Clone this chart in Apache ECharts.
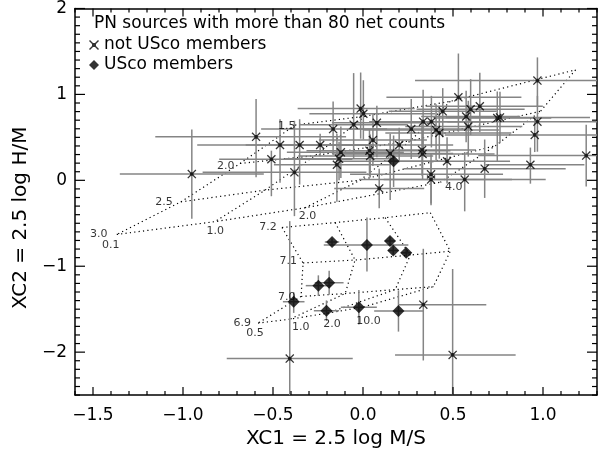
<!DOCTYPE html>
<html><head><meta charset="utf-8">
<script src="https://cdn.jsdelivr.net/npm/echarts@6/dist/echarts.min.js"></script>
<style>html,body{margin:0;padding:0;background:#fff}#c{width:600px;height:454px}</style>
</head><body><div id="c"></div>
<script>
// ---- data: not USco members (x marks) ----
const otherX = [-0.951,-0.594,-0.509,-0.461,-0.381,-0.352,-0.238,-0.166,-0.123,-0.133,-0.145,-0.052,-0.013,0.002,0.077,0.055,0.036,0.04,0.09,0.151,0.201,0.268,0.334,0.38,0.406,0.424,0.443,0.53,0.573,0.585,0.598,0.649,0.746,0.761,0.969,0.969,0.954,0.328,0.331,0.467,0.676,0.93,1.24,0.378,0.378,0.565,0.335,-0.407,0.498];
const otherY = [0.073,0.506,0.245,0.411,0.093,0.411,0.411,0.597,0.326,0.25,0.181,0.648,0.835,0.775,0.669,0.468,0.345,0.284,-0.094,0.311,0.411,0.597,0.683,0.683,0.586,0.552,0.803,0.966,0.743,0.626,0.827,0.862,0.724,0.732,1.161,0.683,0.529,0.353,0.307,0.222,0.135,0.181,0.288,0.07,0.009,0.009,-1.447,-2.075,-2.032];
const otherXErrLo = [0.40,0.56,0.29,0.46,0.51,0.30,0.20,0.40,0.30,0.30,0.35,0.30,0.35,0.30,0.25,0.30,0.35,0.40,0.25,0.30,0.30,0.35,0.30,0.30,0.40,0.30,0.30,0.40,0.25,0.35,0.30,0.30,0.35,0.30,0.68,0.50,0.50,0.30,0.50,0.35,0.45,0.25,0.60,0.45,0.40,0.45,0.14,0.35,0.32];
const otherXErrHi = [0.40,0.50,0.45,0.50,0.40,0.40,0.30,0.30,0.35,0.30,0.30,0.30,0.30,0.40,0.30,0.30,0.45,0.35,0.25,0.35,0.30,0.30,0.35,0.30,0.35,0.40,0.30,0.35,0.30,0.30,0.30,0.35,0.30,0.50,0.45,0.40,0.50,0.30,0.40,0.35,0.45,0.30,0.10,0.40,0.45,0.45,0.35,0.35,0.35];
const otherYErrLo = [0.52,0.47,0.43,0.44,0.51,0.46,0.13,0.30,0.30,0.25,0.43,0.40,0.35,0.30,0.40,0.30,0.30,0.25,0.23,0.54,0.20,0.35,0.35,0.30,0.35,0.30,0.30,0.40,0.30,0.35,0.30,0.30,0.50,0.30,0.30,0.35,0.20,0.30,0.30,0.26,0.34,0.22,0.36,0.34,0.30,0.37,0.65,1.60,1.00];
const otherYErrHi = [0.52,0.44,0.10,0.30,0.60,0.30,0.13,0.32,0.30,0.20,0.36,0.60,0.42,0.39,0.20,0.30,0.25,0.25,0.23,0.23,0.20,0.35,0.37,0.30,0.30,0.30,0.27,0.51,0.30,0.30,0.35,0.39,0.31,0.30,0.27,0.30,0.20,0.30,0.30,0.28,0.34,0.20,0.36,0.24,0.20,0.32,0.65,1.60,1.00];

// ---- data: USco members (diamonds) ----
const uscoX = [-0.172,0.022,0.15,0.168,0.24,-0.248,-0.188,-0.385,-0.203,-0.023,0.197,0.17];
const uscoY = [-0.718,-0.752,-0.706,-0.817,-0.844,-1.226,-1.192,-1.413,-1.518,-1.478,-1.521,0.222];
const uscoXErrLo = [0.04,0.24,0.03,0.03,0.03,0.07,0.08,0.06,0.07,0.10,0.135,0.30];
const uscoXErrHi = [0.04,0.23,0.03,0.03,0.03,0.07,0.08,0.06,0.07,0.10,0.14,0.30];
const uscoYErrLo = [0.04,0.31,0.05,0.05,0.05,0.12,0.14,0.13,0.12,0.20,0.24,0.30];
const uscoYErrHi = [0.04,0.32,0.05,0.05,0.05,0.12,0.14,0.11,0.12,0.20,0.24,0.30];

// ---- model grids (rows x columns of vertices) ----
const upperGridX = [[-0.377,0.012,0.485,1.181],[-0.683,-0.266,0.263,0.986],[-1.012,-0.544,-0.016,0.736],[-1.368,-0.823,-0.322,0.43]];
const upperGridY = [[0.643,0.747,0.919,1.286],[0.196,0.288,0.46,0.804],[-0.251,-0.114,0.001,0.403],[-0.63,-0.481,-0.32,-0.022]];
const lowerGridX = [[-0.45,-0.155,0.123,0.374],[-0.333,-0.044,0.263,0.485],[-0.344,-0.099,0.179,0.391],[-0.583,-0.405,-0.199,-0.005]];
const lowerGridY = [[-0.549,-0.492,-0.435,-0.377],[-0.962,-0.928,-0.87,-0.825],[-1.352,-1.318,-1.272,-1.237],[-1.662,-1.616,-1.547,-1.478]];

// ---- grid labels ----
const gridLabelText = ['1.5','2.0','2.5','3.0','0.1','1.0','2.0','4.0','7.2','7.1','7.0','6.9','0.5','1.0','2.0','10.0'];
const gridLabelX = [-0.424,-0.763,-1.106,-1.468,-1.401,-0.821,-0.309,0.504,-0.528,-0.415,-0.424,-0.671,-0.6,-0.346,-0.172,0.03];
const gridLabelY = [0.632,0.165,-0.251,-0.622,-0.756,-0.592,-0.42,-0.076,-0.541,-0.943,-1.356,-1.658,-1.784,-1.711,-1.673,-1.642];

// ---- axes ----
const xMin = -1.6, xMax = 1.3, yMin = -2.5, yMax = 2;
const xMajorTicks = [-1.5,-1.0,-0.5,0.0,0.5,1.0];
const yMajorTicks = [-2,-1,0,1,2];
const xMinorStep = 0.1, yMinorStep = 0.1;

function minorValues(lo, hi, step, majors) {
  const out = [];
  for (let i = Math.ceil(lo / step - 1e-6); i * step <= hi + 1e-9; i++) {
    const v = Math.round(i * step * 1000) / 1000;
    if (!majors.some(m => Math.abs(m - v) < 1e-6)) out.push(v);
  }
  return out;
}
const xMinorTicks = minorValues(xMin, xMax, xMinorStep, xMajorTicks);
const yMinorTicks = minorValues(yMin, yMax, yMinorStep, yMajorTicks);

const FONT = 'DejaVu Sans';
const minus = s => String(s).replace('-', '\u2212');
const frameLine = { show: true, onZero: false, lineStyle: { color: '#000', width: 1.5 } };

const xAxes = [
  {
    type: 'value', position: 'bottom', min: xMin, max: xMax, gridIndex: 0,
    axisLine: frameLine, axisTick: { show: false },
    axisLabel: { show: true, customValues: xMajorTicks, margin: 12, color: '#000', fontSize: 17, fontFamily: FONT,
      formatter: v => minus(v.toFixed(1)) },
    splitLine: { show: false },
    name: 'XC1 = 2.5 log M/S', nameLocation: 'middle', nameGap: 28,
    nameTextStyle: { fontSize: 20, fontFamily: FONT, color: '#000' }
  },
  { type: 'value', position: 'top', min: xMin, max: xMax, gridIndex: 0,
    axisLine: frameLine, axisTick: { show: false }, axisLabel: { show: false }, splitLine: { show: false } }
];
const yAxes = [
  {
    type: 'value', position: 'left', min: yMin, max: yMax, gridIndex: 0,
    axisLine: frameLine, axisTick: { show: false },
    axisLabel: { show: true, customValues: yMajorTicks, margin: 8, color: '#000', fontSize: 17, fontFamily: FONT,
      formatter: v => minus(Math.round(v)) },
    splitLine: { show: false },
    name: 'XC2 = 2.5 log H/M', nameLocation: 'middle', nameGap: 32, nameRotate: 90,
    nameTextStyle: { fontSize: 20, fontFamily: FONT, color: '#000', padding: [0, 32, 0, 0] }
  },
  { type: 'value', position: 'right', min: yMin, max: yMax, gridIndex: 0,
    axisLine: frameLine, axisTick: { show: false }, axisLabel: { show: false }, splitLine: { show: false } }
];

// ---- build series ----
const series = [];

// inward tick marks on all four frame sides, placed through the axis scales
const tickStyle = { stroke: '#000', lineWidth: 1.2 };
const xTickData = xMajorTicks.map(v => [v, yMin, 8]).concat(xMinorTicks.map(v => [v, yMin, 4]));
const yTickData = yMajorTicks.map(v => [xMin, v, 10]).concat(yMinorTicks.map(v => [xMin, v, 5]));
series.push({
  type: 'custom', data: xTickData, z: 5, silent: true, animation: false, clip: false,
  renderItem: function (params, api) {
    const cs = params.coordSys, px = api.coord([api.value(0), api.value(1)])[0], len = api.value(2);
    const yb = cs.y + cs.height, yt = cs.y;
    return { type: 'group', children: [
      { type: 'line', shape: { x1: px, y1: yb, x2: px, y2: yb - len }, style: tickStyle },
      { type: 'line', shape: { x1: px, y1: yt, x2: px, y2: yt + len }, style: tickStyle }
    ]};
  }
});
series.push({
  type: 'custom', data: yTickData, z: 5, silent: true, animation: false, clip: false,
  renderItem: function (params, api) {
    const cs = params.coordSys, py = api.coord([api.value(0), api.value(1)])[1], len = api.value(2);
    const xl = cs.x, xr = cs.x + cs.width;
    return { type: 'group', children: [
      { type: 'line', shape: { x1: xl, y1: py, x2: xl + len, y2: py }, style: tickStyle },
      { type: 'line', shape: { x1: xr, y1: py, x2: xr - len, y2: py }, style: tickStyle }
    ]};
  }
});

function lineSeries(d) {
  return { type: 'line', data: d, symbol: 'none', showSymbol: false, silent: true, z: 1,
    lineStyle: { color: '#000', width: 1.2, type: [1.2, 3.2] }, animation: false };
}
function addGridLines(gx, gy) {
  const nr = gx.length, nc = gx[0].length;
  for (let r = 0; r < nr; r++) {
    const d = []; for (let c = 0; c < nc; c++) d.push([gx[r][c], gy[r][c]]);
    series.push(lineSeries(d));
  }
  for (let c = 0; c < nc; c++) {
    const d = []; for (let r = 0; r < nr; r++) d.push([gx[r][c], gy[r][c]]);
    series.push(lineSeries(d));
  }
}
addGridLines(upperGridX, upperGridY);
addGridLines(lowerGridX, lowerGridY);

function errData(xs, ys, xl, xh, yl, yh) {
  return xs.map((x, i) => [x, ys[i], x - xl[i], x + xh[i], ys[i] - yl[i], ys[i] + yh[i]]);
}
const allErr = errData(otherX, otherY, otherXErrLo, otherXErrHi, otherYErrLo, otherYErrHi)
  .concat(errData(uscoX, uscoY, uscoXErrLo, uscoXErrHi, uscoYErrLo, uscoYErrHi));

series.push({
  type: 'custom', data: allErr, z: 2, silent: true, animation: false,
  encode: { x: 0, y: 1 },
  renderItem: function (params, api) {
    const cs = params.coordSys;
    const clampX = v => Math.max(cs.x, Math.min(cs.x + cs.width, v));
    const clampY = v => Math.max(cs.y, Math.min(cs.y + cs.height, v));
    const x = api.value(0), y = api.value(1);
    const a = api.coord([api.value(2), y]), b = api.coord([api.value(3), y]);
    const c = api.coord([x, api.value(4)]), d = api.coord([x, api.value(5)]);
    const st = { stroke: '#858585', lineWidth: 1.5 };
    return { type: 'group', children: [
      { type: 'line', shape: { x1: clampX(a[0]), y1: a[1], x2: clampX(b[0]), y2: b[1] }, style: st },
      { type: 'line', shape: { x1: c[0], y1: clampY(c[1]), x2: d[0], y2: clampY(d[1]) }, style: st }
    ]};
  }
});

const crossPath = 'path://M0,1 L1,0 L5,4 L9,0 L10,1 L6,5 L10,9 L9,10 L5,6 L1,10 L0,9 L4,5 Z M3,3 L7,3 L7,7 L3,7 Z';
series.push({
  name: 'not USco members', type: 'scatter', z: 3, animation: false,
  symbol: crossPath, symbolSize: 9, itemStyle: { color: '#000' },
  data: otherX.map((x, i) => [x, otherY[i]])
});
series.push({
  name: 'USco members', type: 'scatter', z: 3, animation: false,
  symbol: 'diamond', symbolSize: 12, itemStyle: { color: '#000' },
  data: uscoX.map((x, i) => [x, uscoY[i]])
});
series.push({
  type: 'scatter', z: 4, silent: true, animation: false, symbolSize: 0,
  data: gridLabelText.map((t, i) => ({ value: [gridLabelX[i], gridLabelY[i]], name: t })),
  label: { show: true, position: 'inside', formatter: '{b}', color: '#000', fontSize: 11, fontFamily: FONT }
});

const chart = echarts.init(document.getElementById('c'), null, { renderer: 'canvas' });
chart.setOption({
  animation: false,
  backgroundColor: '#fff',
  textStyle: { fontFamily: FONT },
  graphic: [{ type: 'text', left: 94, top: 15, z: 10,
    style: { text: 'PN sources with more than 80 net counts', fontSize: 17, fontFamily: FONT, fill: '#000' } }],
  legend: { data: ['not USco members', 'USco members'], orient: 'vertical', left: 89, top: 36.5, padding: 0,
    itemWidth: 10, itemHeight: 10, itemGap: 3, selectedMode: false,
    textStyle: { fontSize: 17, fontFamily: FONT, color: '#000' } },
  grid: { left: 75, right: 3, top: 6, bottom: 56, containLabel: false },
  xAxis: xAxes,
  yAxis: yAxes,
  series: series
});
</script>
</body></html>
